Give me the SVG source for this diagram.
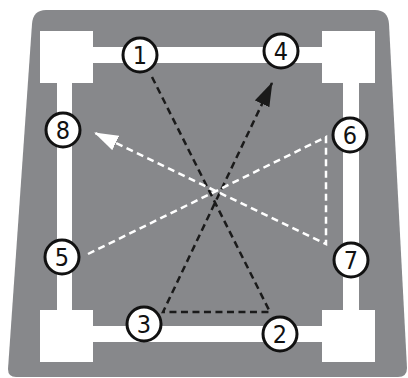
<svg xmlns="http://www.w3.org/2000/svg" width="408" height="378" viewBox="0 0 408 378">
<style>
.bg{fill:#87888b}
.frame{fill:#ffffff}
.node circle{fill:#ffffff;stroke:#111111;stroke-width:3}
.node text{font-family:"Liberation Sans Narrow","DejaVu Sans Condensed","Liberation Sans",sans-serif;font-size:25px;fill:#111111;text-anchor:middle}
.dk{fill:none;stroke:#1a1a1a;stroke-width:2.5;stroke-dasharray:7 4.5}
.lt{fill:none;stroke:#ffffff;stroke-width:2.5;stroke-dasharray:7 4.5}
</style>
<defs>
<marker id="ak" markerUnits="userSpaceOnUse" viewBox="0 0 24 16" refX="23" refY="8" markerWidth="24" markerHeight="16" orient="auto"><path d="M0,0 L24,8 L0,16 z" fill="#1a1a1a"/></marker>
<marker id="aw" markerUnits="userSpaceOnUse" viewBox="0 0 24 16" refX="23" refY="8" markerWidth="24" markerHeight="16" orient="auto"><path d="M0,0 L24,8 L0,16 z" fill="#ffffff"/></marker>
</defs>
<rect width="408" height="378" fill="#ffffff"/>
<path class="bg" d="M46,10 L375,10 Q388,10 389,24 L407,368 Q407,377 398,377 L16,377 Q8,377 8,369 L32,24 Q33,10 46,10 Z"/>
<g id="frame" class="frame">
<rect x="93" y="47" width="229" height="16"/>
<rect x="93" y="326" width="229" height="16"/>
<rect x="57" y="83" width="15" height="227"/>
<rect x="343" y="83" width="16" height="227"/>
<rect x="40" y="31" width="53" height="52"/>
<rect x="322" y="31" width="53" height="52"/>
<rect x="40" y="310" width="53" height="52"/>
<rect x="322" y="310" width="53" height="52"/>
</g>
<g id="connectors">
<path class="dk" d="M152,77 L270,312 L163,312 L272,83" marker-end="url(#ak)"/>
<path class="lt" d="M88,254 L326,137 L326,244 L95,133" marker-end="url(#aw)"/>
</g>
<g id="n1" class="node"><circle cx="140" cy="55" r="17"/><text x="140" y="63.5">1</text></g>
<g id="n2" class="node"><circle cx="280" cy="334" r="17"/><text x="280" y="342.5">2</text></g>
<g id="n3" class="node"><circle cx="144" cy="324" r="17"/><text x="144" y="332.5">3</text></g>
<g id="n4" class="node"><circle cx="281" cy="51" r="17"/><text x="281" y="59.5">4</text></g>
<g id="n5" class="node"><circle cx="62" cy="257" r="17"/><text x="62" y="265.5">5</text></g>
<g id="n6" class="node"><circle cx="350" cy="135" r="17"/><text x="350" y="143.5">6</text></g>
<g id="n7" class="node"><circle cx="351" cy="260" r="17"/><text x="351" y="268.5">7</text></g>
<g id="n8" class="node"><circle cx="63" cy="130" r="17"/><text x="63" y="138.5">8</text></g>
</svg>
